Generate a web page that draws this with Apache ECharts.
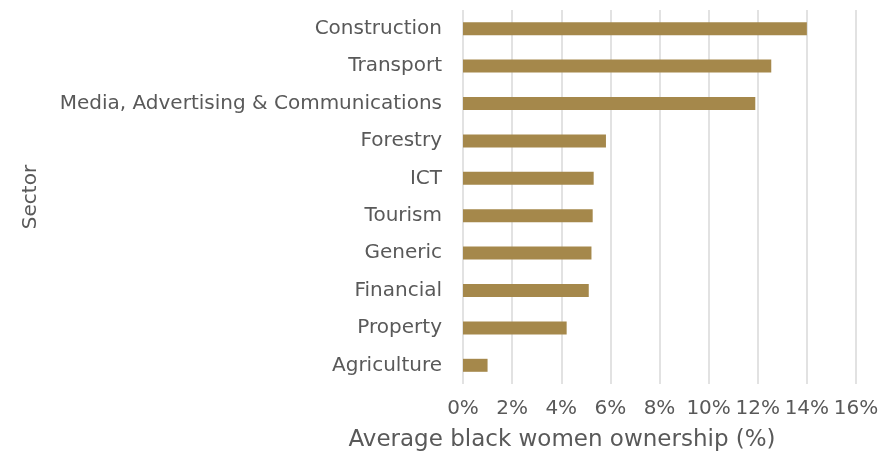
<!DOCTYPE html>
<html>
<head>
<meta charset="utf-8">
<script src="https://cdn.jsdelivr.net/npm/echarts@6/dist/echarts.min.js"></script>
<style>
  html, body { margin: 0; padding: 0; background: #ffffff; }
  #chart { width: 889px; height: 453px; }
</style>
</head>
<body>
<div id="chart"></div>
<script>
// Average black women ownership by sector (percent)
const sectors = [
  'Construction', 'Transport', 'Media, Advertising & Communications', 'Forestry',
  'ICT', 'Tourism', 'Generic', 'Financial', 'Property', 'Agriculture'
];
const ownership = [14.0, 12.55, 11.9, 5.82, 5.32, 5.28, 5.23, 5.12, 4.22, 1.0];
const tickValues = [0, 2, 4, 6, 8, 10, 12, 14, 16];

const textColor = '#595959';
const fontFamily = 'DejaVu Sans';

const chart = echarts.init(document.getElementById('chart'), null, { renderer: 'canvas' });
chart.setOption({
  animation: false,
  backgroundColor: '#ffffff',
  textStyle: { fontFamily: fontFamily, color: textColor },
  title: {
    text: 'Average black women ownership (%)',
    left: 557,
    top: 424,
    textAlign: 'center',
    textStyle: { fontFamily: fontFamily, fontSize: 23, fontWeight: 'normal', color: textColor }
  },
  grid: { left: 463, right: 33, top: 10, bottom: 69, containLabel: false },
  xAxis: {
    type: 'value',
    min: tickValues[0],
    max: tickValues[tickValues.length - 1],
    interval: 2,
    axisLine: { show: false },
    axisTick: { show: false },
    axisLabel: {
      margin: 15,
      fontSize: 20,
      color: textColor,
      fontFamily: fontFamily,
      formatter: v => v + '%'
    },
    splitLine: { show: true, lineStyle: { color: '#D9D9D9', width: 1.5 } }
  },
  yAxis: {
    type: 'category',
    data: sectors,
    inverse: true,
    name: 'Sector',
    nameLocation: 'middle',
    nameRotate: 90,
    nameGap: 422,
    nameTextStyle: { fontSize: 20, color: textColor, fontFamily: fontFamily },
    axisLine: { show: false },
    axisTick: { show: false },
    axisLabel: { margin: 21, fontSize: 20, color: textColor, fontFamily: fontFamily }
  },
  series: [{
    type: 'bar',
    data: ownership,
    barWidth: 13,
    itemStyle: { color: '#A5884B' }
  }]
});
</script>
</body>
</html>
